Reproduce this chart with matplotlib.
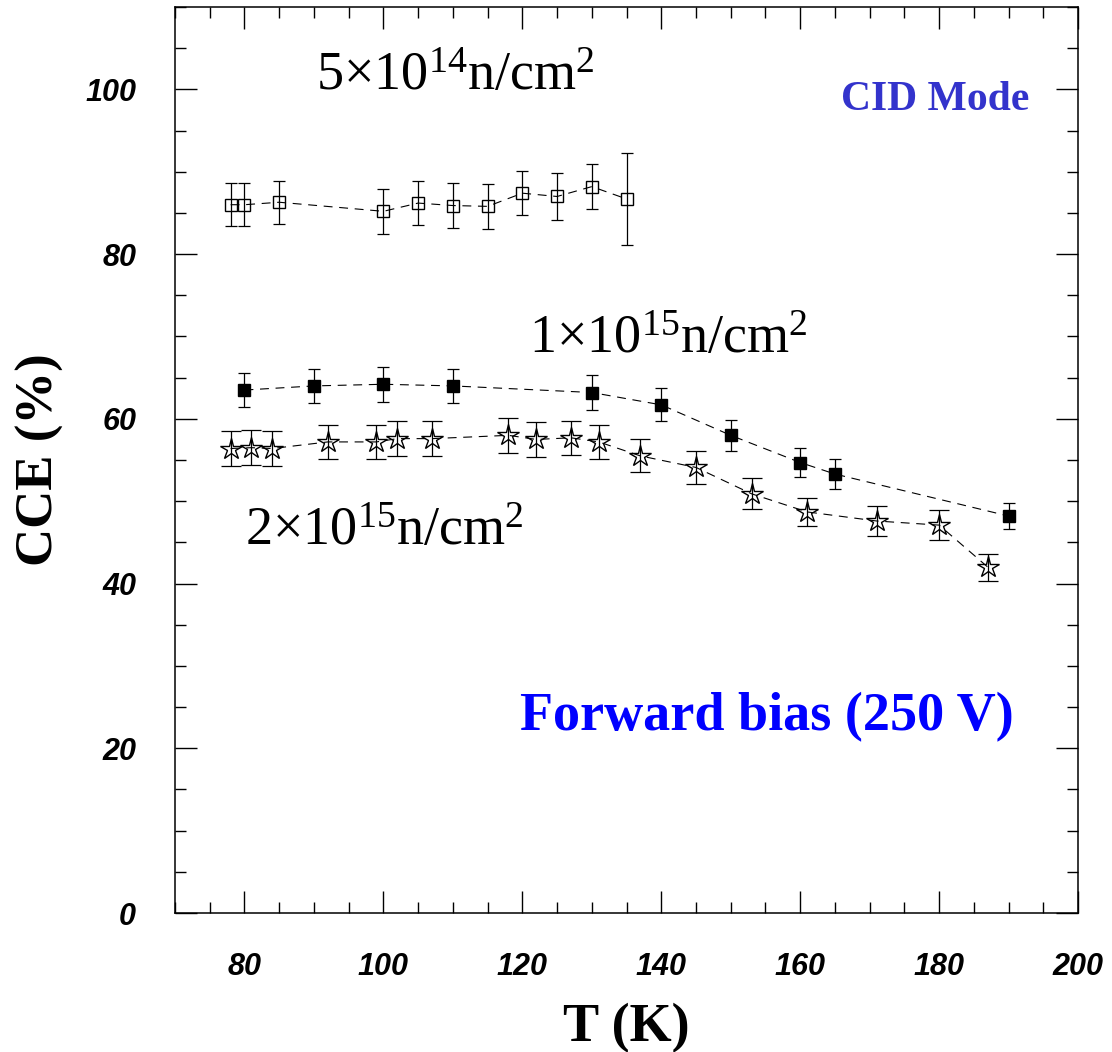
import numpy as np
import matplotlib.pyplot as plt
from matplotlib.ticker import MultipleLocator

plt.rcParams['mathtext.fontset'] = 'custom'
plt.rcParams['mathtext.rm'] = 'Liberation Serif'
plt.rcParams['mathtext.it'] = 'Liberation Serif:italic'
plt.rcParams['mathtext.bf'] = 'Liberation Serif:bold'

# fluence 5e14 n/cm2 (open squares)
t_5e14 = [78, 80, 85, 100, 105, 110, 115, 120, 125, 130, 135]
cce_5e14 = [86.0, 86.0, 86.3, 85.2, 86.2, 85.9, 85.8, 87.4, 87.0, 88.2, 86.7]
err_5e14 = [2.6, 2.6, 2.6, 2.7, 2.65, 2.7, 2.7, 2.7, 2.8, 2.75, 5.6]

# fluence 1e15 n/cm2 (filled squares)
t_1e15 = [80, 90, 100, 110, 130, 140, 150, 160, 165, 190]
cce_1e15 = [63.5, 64.0, 64.2, 64.0, 63.2, 61.7, 58.0, 54.7, 53.3, 48.2]
err_1e15 = [2.1, 2.1, 2.1, 2.1, 2.1, 2.0, 1.9, 1.8, 1.8, 1.6]

# fluence 2e15 n/cm2 (open stars)
t_2e15 = [78, 81, 84, 92, 99, 102, 107, 118, 122, 127, 131, 137, 145, 153, 161, 171, 180, 187]
cce_2e15 = [56.4, 56.5, 56.4, 57.2, 57.2, 57.6, 57.6, 58.0, 57.5, 57.7, 57.2, 55.5,
            54.1, 50.9, 48.7, 47.6, 47.1, 42.0]
err_2e15 = [2.1, 2.1, 2.1, 2.1, 2.1, 2.1, 2.1, 2.1, 2.1, 2.1, 2.1, 2.0,
            2.05, 1.9, 1.75, 1.8, 1.8, 1.65]

fig = plt.figure(figsize=(11.12, 10.52), dpi=100)
ax = fig.add_axes([0.1574, 0.1321, 0.8121, 0.8612])

dash = (0, (8, 6))

def draw(t, v, e, marker, ms, mfc, cap):
    ax.plot(t, v, color='black', lw=0.8, linestyle=dash, zorder=2)
    ax.errorbar(t, v, yerr=e, fmt='none', ecolor='black', elinewidth=0.9,
                capsize=cap, capthick=0.9, zorder=3)
    ax.plot(t, v, linestyle='none', marker=marker, ms=ms, mfc=mfc,
            mec='black', mew=1.0, zorder=4)

draw(t_5e14, cce_5e14, err_5e14, 's', 9.3, 'none', 4.6)
draw(t_1e15, cce_1e15, err_1e15, 's', 8.4, 'black', 4.6)
draw(t_2e15, cce_2e15, err_2e15, '*', 16, 'none', 7.0)

ax.set_xlim(70, 200)
ax.set_ylim(0, 110)
ax.xaxis.set_major_locator(MultipleLocator(20))
ax.xaxis.set_minor_locator(MultipleLocator(5))
ax.yaxis.set_major_locator(MultipleLocator(20))
ax.yaxis.set_minor_locator(MultipleLocator(5))
ax.tick_params(which='both', direction='in', top=True, right=True, width=1.0)
ax.tick_params(which='major', length=16, pad=28)
ax.tick_params(which='minor', length=8)
for s in ax.spines.values():
    s.set_linewidth(1.1)

for lab in ax.get_xticklabels() + ax.get_yticklabels():
    lab.set_fontfamily('Liberation Sans')
    lab.set_fontweight('bold')
    lab.set_fontstyle('italic')
    lab.set_fontsize(22)

ax.set_xlabel('T (K)', fontfamily='Liberation Serif', fontweight='bold', fontsize=39)
ax.xaxis.set_label_coords(0.5, -0.099)
ax.set_ylabel('CCE (%)', fontfamily='Liberation Serif', fontweight='bold', fontsize=38)
ax.yaxis.set_label_coords(-0.123, 0.5)

ax.text(90.3, 99.9, r'$\mathrm{5{\times}10^{14}n/cm^{2}}$', fontsize=39,
        ha='left', va='baseline')
ax.text(120.9, 68.0, r'$\mathrm{1{\times}10^{15}n/cm^{2}}$', fontsize=39,
        ha='left', va='baseline')
ax.text(80.1, 44.7, r'$\mathrm{2{\times}10^{15}n/cm^{2}}$', fontsize=39,
        ha='left', va='baseline')
ax.text(165.8, 97.5, 'CID Mode', fontfamily='Liberation Serif', fontweight='bold',
        fontsize=30, color='#3333cc', ha='left', va='baseline')
ax.text(119.7, 22.2, 'Forward bias (250 V)', fontfamily='Liberation Serif',
        fontweight='bold', fontsize=39, color='#0000ff', ha='left', va='baseline')

fig.savefig('out.png', dpi=100)
